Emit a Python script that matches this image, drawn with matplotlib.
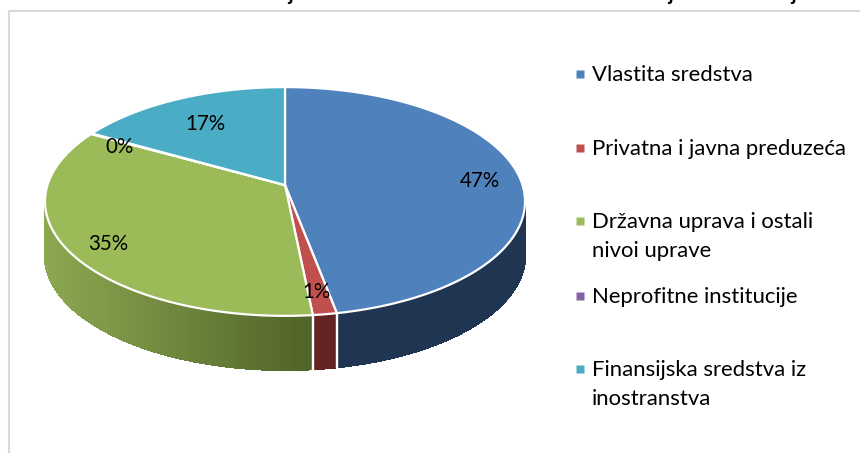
import numpy as np
import matplotlib
matplotlib.use("Agg")
import matplotlib.pyplot as plt

categories = ["Vlastita sredstva", "Privatna i javna preduzeća",
              "Državna uprava i ostali\nnivoi uprave", "Neprofitne institucije",
              "Finansijska sredstva iz\ninostranstva"]
shares = [47.0, 1.4, 34.7, 0.1, 16.8]
pct_labels = ["47%", "1%", "35%", "0%", "17%"]

colors = ["#4F81BD", "#C0504D", "#9BBB59", "#8064A2", "#4BACC6"]
wall_left = ["#1F3552", "#632523", "#8CA851", "#403152", "#205867"]
wall_right = ["#1F3552", "#632523", "#4F6228", "#403152", "#205867"]

label_pos = [(480, 181), (316, 292), (108, 244), (120, 147), (205, 124)]
legend_y = [74, 148, 221, 296, 369]

# pie centre and perspective of the disc, in picture pixels
CX, CY = 285, 185
RX, RY, TILT = 237.5, 112, 0.144
DEPTH = 54


def project(theta):
    # theta runs clockwise from the top of the pie
    u, v = np.sin(theta), np.cos(theta)
    w = 1 + TILT * v
    return CX + RX * u / w, CY - RY * v / w


def hex_mix(a, b, t):
    a = np.array(matplotlib.colors.to_rgb(a))
    b = np.array(matplotlib.colors.to_rgb(b))
    return a + (b - a) * t


fig = plt.figure(figsize=(8.6, 4.53), dpi=100)
ax = fig.add_axes([0, 0, 1, 1])
ax.set_xlim(0, 860)
ax.set_ylim(453, 0)
ax.axis("off")

plt.rcParams["font.family"] = ["Lato", "DejaVu Sans"]

# frame of the chart, only top and left show
ax.plot([9, 9, 860], [453, 11, 11], color="#D9D9D9", lw=1.5, zorder=1)

# title is cut by the top edge of the picture
ax.text(5, 0.5, "Grafikon 1: Struktura finansiranja naučnih i stručnih ustanova za istraživanja i novi razvoj",
        fontsize=14.5, fontweight="bold", color="black", va="baseline", ha="left", zorder=5)

edges = np.cumsum([0] + shares) / 100 * 2 * np.pi

# the wall only shows below the widest points of the disc
wall_lo = np.arccos(-TILT)
wall_hi = 2 * np.pi - wall_lo

# side walls first
for i in range(len(shares)):
    a0, a1 = edges[i], edges[i + 1]
    lo, hi = max(a0, wall_lo), min(a1, wall_hi)
    if hi <= lo:
        continue
    n = max(int((hi - lo) * 120), 2)
    th = np.linspace(lo, hi, n + 1)
    xs, ys = project(th)
    for j in range(n):
        t = np.clip((min(xs[j], xs[j + 1]) - 45) / (313 - 45), 0, 1)
        c = hex_mix(wall_left[i], wall_right[i], t)
        ax.fill([xs[j], xs[j + 1], xs[j + 1], xs[j]],
                [ys[j], ys[j + 1], ys[j + 1] + DEPTH, ys[j] + DEPTH],
                color=c, lw=1.0, antialiased=False, zorder=2)
    # white seam at the wedge ends
    for a in (a0, a1):
        if wall_lo < a < wall_hi:
            x, y = project(a)
            ax.plot([x, x], [y, y + DEPTH], color="white", lw=1.6, zorder=3)

# top of the pie
for i in range(len(shares)):
    th = np.linspace(edges[i], edges[i + 1], max(int((edges[i + 1] - edges[i]) * 120), 2))
    xs, ys = project(th)
    ax.fill(np.r_[CX, xs], np.r_[CY, ys], facecolor=colors[i], edgecolor="white",
            lw=1.6, joinstyle="round", zorder=4)

for (x, y), s in zip(label_pos, pct_labels):
    ax.text(x, y, s, fontsize=14.8, color="black", ha="center", va="center", zorder=6)

for i, name in enumerate(categories):
    ax.plot(580, legend_y[i], marker="s", ms=5.8, color=colors[i], mec="none", zorder=5)
    ax.text(592, legend_y[i] - 9, name, fontsize=15.9, color="black", ha="left", va="top",
            linespacing=1.55, zorder=5)

fig.savefig("out.png", dpi=100)
